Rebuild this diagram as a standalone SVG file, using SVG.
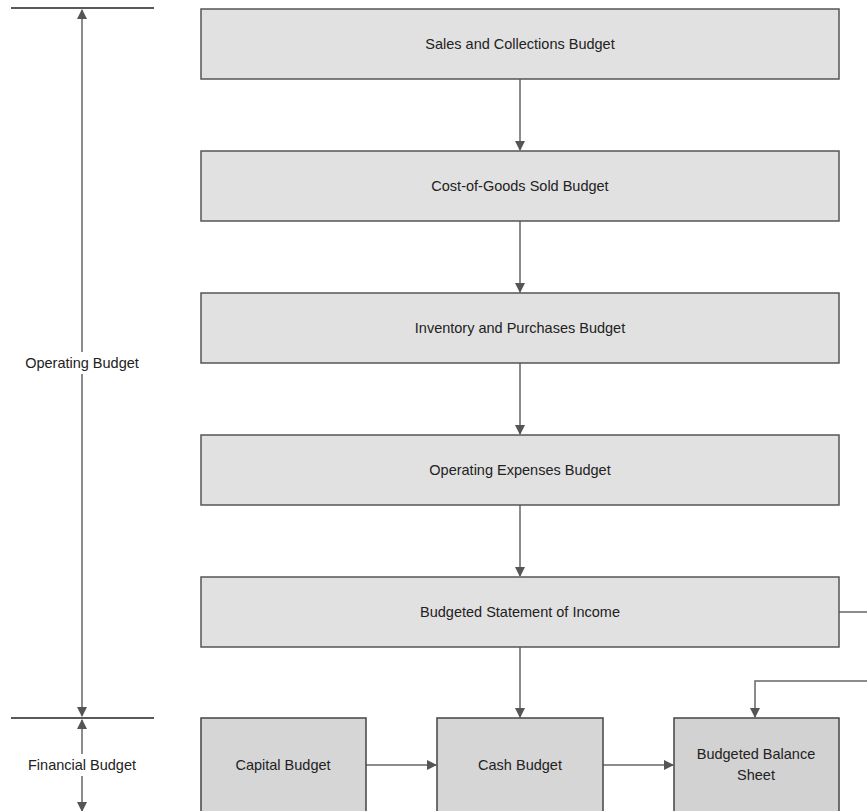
<svg xmlns="http://www.w3.org/2000/svg" width="867" height="811" viewBox="0 0 867 811">
<defs>
<marker id="ah" markerWidth="10" markerHeight="10" refX="9" refY="5" orient="auto" markerUnits="userSpaceOnUse">
<path d="M0,0 L10,5 L0,10 z" fill="#555"/>
</marker>
<style>
.box{fill:#e1e1e1;stroke:#555;stroke-width:1.5}
.box2{fill:#d6d6d6;stroke:#444;stroke-width:1.5}
.box3{fill:#d2d2d2;stroke:#444;stroke-width:1.5}
.t{font-family:"Liberation Sans",Arial,sans-serif;font-size:14.5px;fill:#222;text-anchor:middle}
.c{stroke:#666;stroke-width:1.5;fill:none}
.lim{stroke:#222;stroke-width:1.5}
</style>
</defs>
<rect width="867" height="811" fill="#fff"/>
<g id="scale">
<line class="lim" x1="11" y1="8" x2="154" y2="8"/>
<line class="lim" x1="11" y1="718" x2="154" y2="718"/>
<line class="c" x1="82" y1="352" x2="82" y2="10" marker-end="url(#ah)"/>
<line class="c" x1="82" y1="374" x2="82" y2="716" marker-end="url(#ah)"/>
<line class="c" x1="82" y1="754" x2="82" y2="720" marker-end="url(#ah)"/>
<line class="c" x1="82" y1="776" x2="82" y2="811" marker-end="url(#ah)"/>
<text class="t" x="82" y="368">Operating Budget</text>
<text class="t" x="82" y="770">Financial Budget</text>
</g>
<g id="connectors">
<line class="c" x1="520" y1="79" x2="520" y2="150" marker-end="url(#ah)"/>
<line class="c" x1="520" y1="221" x2="520" y2="292" marker-end="url(#ah)"/>
<line class="c" x1="520" y1="363" x2="520" y2="434" marker-end="url(#ah)"/>
<line class="c" x1="520" y1="505" x2="520" y2="576" marker-end="url(#ah)"/>
<line class="c" x1="520" y1="647" x2="520" y2="717" marker-end="url(#ah)"/>
<line class="c" x1="366" y1="765" x2="436" y2="765" marker-end="url(#ah)"/>
<line class="c" x1="603" y1="765" x2="673" y2="765" marker-end="url(#ah)"/>
<line class="c" x1="839" y1="612" x2="867" y2="612"/>
<polyline class="c" points="867,681 755,681 755,717" marker-end="url(#ah)"/>
</g>
<g id="sales"><rect class="box" x="201" y="9" width="638" height="70"/><text class="t" x="520" y="49">Sales and Collections Budget</text></g>
<g id="cogs"><rect class="box" x="201" y="151" width="638" height="70"/><text class="t" x="520" y="191">Cost-of-Goods Sold Budget</text></g>
<g id="inventory"><rect class="box" x="201" y="293" width="638" height="70"/><text class="t" x="520" y="333">Inventory and Purchases Budget</text></g>
<g id="opex"><rect class="box" x="201" y="435" width="638" height="70"/><text class="t" x="520" y="475">Operating Expenses Budget</text></g>
<g id="income"><rect class="box" x="201" y="577" width="638" height="70"/><text class="t" x="520" y="617">Budgeted Statement of Income</text></g>
<g id="capital"><rect class="box2" x="201" y="718" width="165" height="110"/><text class="t" x="283" y="770">Capital Budget</text></g>
<g id="cash"><rect class="box2" x="437" y="718" width="166" height="110"/><text class="t" x="520" y="770">Cash Budget</text></g>
<g id="balance"><rect class="box3" x="674" y="718" width="165" height="110"/><text class="t" x="756" y="759">Budgeted Balance</text><text class="t" x="756" y="780">Sheet</text></g>
</svg>
